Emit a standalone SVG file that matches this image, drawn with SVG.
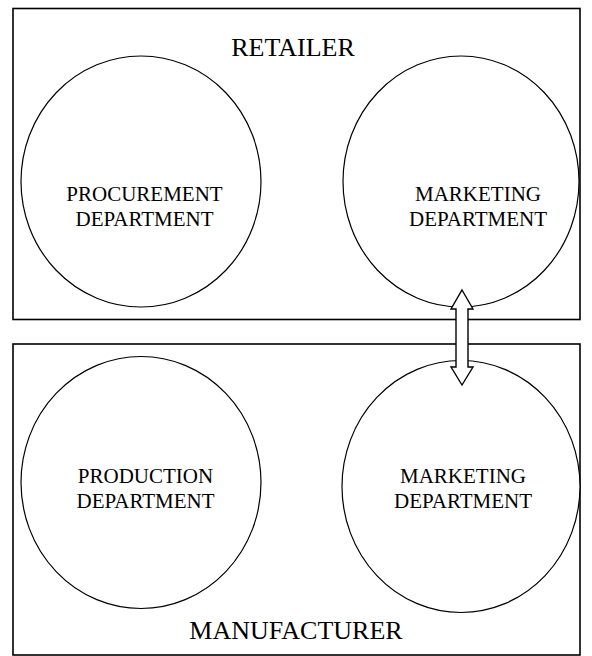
<svg xmlns="http://www.w3.org/2000/svg" width="592" height="656" viewBox="0 0 592 656">
<style>
.box{fill:#fff;stroke:#000;stroke-width:1.6}
.dept{fill:#fff;stroke:#000;stroke-width:1.2}
.t{font-family:"Liberation Serif","Times New Roman",serif;fill:#000;text-anchor:middle}
.big{font-size:26px}
.small{font-size:21px}
.arrow{fill:#fff;stroke:#000;stroke-width:1.4;stroke-linejoin:miter}
</style>
<g id="retailer">
<rect class="box" x="13" y="8.5" width="567" height="311"/>
<text class="t big" x="293" y="56">RETAILER</text>
</g>
<g id="manufacturer">
<rect class="box" x="13" y="344" width="567" height="311"/>
<text class="t big" x="296" y="639">MANUFACTURER</text>
</g>
<g id="procurement">
<ellipse class="dept" cx="141" cy="181.5" rx="120" ry="125.5"/>
<text class="t small" x="144.5" y="201">PROCUREMENT</text>
<text class="t small" x="144.5" y="226">DEPARTMENT</text>
</g>
<g id="retail-marketing">
<ellipse class="dept" cx="461" cy="181.5" rx="118" ry="125.5"/>
<text class="t small" x="478" y="201">MARKETING</text>
<text class="t small" x="478" y="226">DEPARTMENT</text>
</g>
<g id="production">
<ellipse class="dept" cx="141" cy="482.5" rx="120" ry="126"/>
<text class="t small" x="145.5" y="483">PRODUCTION</text>
<text class="t small" x="145.5" y="508">DEPARTMENT</text>
</g>
<g id="manu-marketing">
<ellipse class="dept" cx="461" cy="486.5" rx="119" ry="126"/>
<text class="t small" x="463" y="483">MARKETING</text>
<text class="t small" x="463" y="508">DEPARTMENT</text>
</g>
<g id="connectors">
<path class="arrow" d="M462,290 L473,309 L468,309 L468,367 L473,367 L462,385 L451,367 L456,367 L456,309 L451,309 Z"/>
</g>
</svg>
